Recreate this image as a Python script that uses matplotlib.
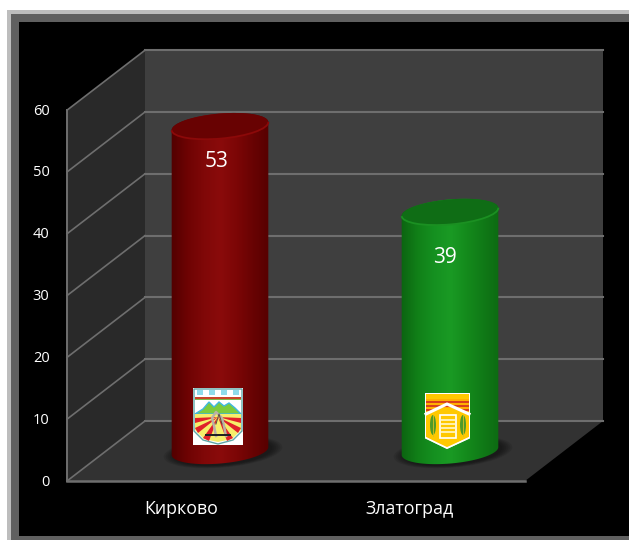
import numpy as np
import matplotlib
matplotlib.use("Agg")
import matplotlib.pyplot as plt
from matplotlib.patches import Rectangle, Polygon, Ellipse, PathPatch, Arc
from matplotlib.path import Path
from matplotlib.colors import LinearSegmentedColormap

''' DATA '''
categories = ["Кирково", "Златоград"]
values = [53, 39]
ticks = [0, 10, 20, 30, 40, 50, 60]
red_shades = ["#520000", "#6e0303", "#800808", "#8a0b0b", "#7c0606", "#680303", "#560000"]
green_shades = ["#0c6411", "#118018", "#159020", "#1a9a24", "#148a1c", "#107a17", "#0d6a12"]
top_colors = ["#680202", "#0f6d15"]
rim_colors = ["#8c0909", "#1b9022"]

''' PARAMETERS '''
W, H = 629, 540
front_x, back_x, right_back, right_front = 67, 145, 603, 525
front_0, back_0 = 481, 421
unit = 6.18          # pixels per value unit on the walls
bar_centers = [220, 450]
bar_base = 451
bar_unit = 6.13
rx, ry, tilt = 48.5, 12.5, -5
value_pos = [(217, 161.5), (445, 257.5)]
label_x = [181, 409.5]


def fy(v):
    return front_0 - v * unit


def by(v):
    return back_0 - v * unit


def by_bar(v):
    return bar_base - v * bar_unit


fig = plt.figure(figsize=(W / 100, H / 100), dpi=100, facecolor="white")
ax = fig.add_axes([0, 0, 1, 1])

# Frame
ax.add_patch(Rectangle((7, 10), W, H, fc="#bdbdbd", ec="none", zorder=0))
ax.add_patch(Rectangle((11, 14), W, H, fc="#606060", ec="none", zorder=0.1))
ax.add_patch(Rectangle((19, 22), W, 514, fc="black", ec="none", zorder=0.2))

# Walls and floor
top = ticks[-1]
ax.add_patch(Rectangle((back_x, by(top)), right_back - back_x, by(0) - by(top),
                       fc="#3f3f3f", ec="none", zorder=1))
ax.add_patch(Polygon([(front_x, fy(top)), (back_x, by(top)), (back_x, by(0)), (front_x, fy(0))],
                     fc="#292929", ec="none", zorder=1))
ax.add_patch(Polygon([(front_x, fy(0)), (back_x, by(0)), (right_back, by(0)), (right_front, fy(0))],
                     fc="#323232", ec="none", zorder=1))

# Grid lines
for t in ticks:
    ax.plot([front_x, back_x], [fy(t), by(t)], color="#6e6e6e", lw=1.2, zorder=2)
    ax.plot([back_x, right_back], [by(t), by(t)], color="#6e6e6e", lw=1.5, zorder=2)
    ax.text(49.5, fy(t) + 1, str(t), color="white", fontsize=10.5, family="Open Sans",
            ha="right", va="center", zorder=6)
ax.plot([front_x, front_x], [fy(0), fy(top)], color="#6e6e6e", lw=1.4, zorder=2)
ax.plot([front_x, right_front], [fy(0), fy(0)], color="#6e6e6e", lw=1.8, zorder=2)


# Cylinders
def cylinder(cx, val, shades, top_c, rim_c):
    y_top = by_bar(val)
    # soft shadow on the floor
    for k in range(6):
        ax.add_patch(Ellipse((cx + 3, bar_base + 1), 2 * rx + 22 - k * 4, 2 * ry + 6 - k,
                             angle=tilt, fc="black", ec="none", alpha=0.09, zorder=2.5))
    t = np.linspace(0, np.pi, 60)
    ca, sa = np.cos(np.radians(tilt)), np.sin(np.radians(tilt))
    ex, ey = rx * np.cos(t), ry * np.sin(t)
    px = ex * ca - ey * sa
    py = ex * sa + ey * ca
    bottom = np.column_stack([cx + px, bar_base + py])
    upper = np.column_stack([cx - px, y_top - py])
    verts = np.vstack([bottom, upper, bottom[:1]])
    clip = PathPatch(Path(verts), transform=ax.transData, fc="none", ec="none")
    ax.add_patch(clip)
    cmap = LinearSegmentedColormap.from_list("c", shades)
    im = ax.imshow(np.linspace(0, 1, 200).reshape(1, -1), cmap=cmap, aspect="auto",
                   extent=[cx - rx - 1, cx + rx + 1, bar_base + ry + 3, y_top - ry - 3], zorder=3)
    im.set_clip_path(clip)
    ax.add_patch(Ellipse((cx, y_top), 2 * rx, 2 * ry, angle=tilt, fc=top_c, ec="none", zorder=3.5))
    # lit front rim of the top face (y axis is inverted, so 0-180 is the lower half)
    ax.add_patch(Arc((cx, y_top), 2 * rx, 2 * ry, angle=tilt, theta1=0, theta2=180,
                     color=rim_c, lw=1.3, zorder=3.6))


colors = [red_shades, green_shades]
for i in range(2):
    cylinder(bar_centers[i], values[i], colors[i], top_colors[i], rim_colors[i])
    ax.text(value_pos[i][0], value_pos[i][1], str(values[i]), color="white", fontsize=15,
            family="Open Sans", ha="center", va="center", zorder=6)
    ax.text(label_x[i], 509, categories[i], color="white", fontsize=12.8,
            family="Open Sans", ha="center", va="center", zorder=6)

ax.set_xlim(0, W)
ax.set_ylim(H, 0)
ax.axis("off")

# Emblem Kirkovo
ax.add_patch(Rectangle((193, 388), 50, 57, fc="white", ec="none", zorder=4))
ax.add_patch(Polygon([(194, 389), (242, 389), (242, 431), (233, 440), (218, 444), (203, 440), (194, 431)],
                     fc="#ffffff", ec="#5fa8a8", lw=1, zorder=4.1))
for bx in (197, 209, 221, 233):
    ax.add_patch(Rectangle((bx, 390), 6, 5, fc="#8fdcec", ec="none", zorder=4.2))
ax.add_patch(Rectangle((195, 397), 46, 1.5, fc="#c8452a", ec="none", zorder=4.2))
ax.add_patch(Rectangle((195, 398.5), 46, 1, fc="#7fb84a", ec="none", zorder=4.2))
ax.add_patch(Polygon([(195, 414), (203, 409), (209, 402), (214, 407), (219, 402), (224, 406), (229, 403),
                      (235, 408), (241, 414)], fc="#7ccb3c", ec="#3fb8e0", lw=1, zorder=4.2))
ax.add_patch(Polygon([(195, 414), (241, 414), (241, 430), (232, 439), (218, 442), (204, 439), (195, 430)],
                     fc="#f6ee6a", ec="none", zorder=4.25))
for a, b in [((195, 418), (195, 423)), ((195, 428), (198, 433)), ((203, 438), (209, 441)),
             ((227, 441), (233, 438)), ((238, 433), (241, 428)), ((241, 423), (241, 418))]:
    ax.add_patch(Polygon([(218, 417), a, b], fc="#e0202a", ec="none", zorder=4.3))
ax.plot([216, 214, 212, 216, 222, 224, 226], [436, 426, 418, 412, 418, 426, 436],
        color="#b9b2a6", lw=1.8, zorder=4.4)
ax.plot([216, 219, 222], [424, 414, 424], color="#5a4a40", lw=0.7, zorder=4.45)
ax.add_patch(Rectangle((205, 434), 26, 2, fc="#222222", ec="none", zorder=4.5))

# Emblem Zlatograd
ax.add_patch(Polygon([(425, 393), (470, 393), (470, 438), (447, 449), (425, 438)],
                     fc="#ffffff", ec="none", zorder=4))
ax.add_patch(Rectangle((426, 394), 43, 5, fc="#ffc800", ec="none", zorder=4.1))
ax.add_patch(Rectangle((426, 399), 43, 14, fc="#ffb000", ec="none", zorder=4.1))
for ry_ in (401, 405, 409):
    ax.add_patch(Rectangle((426, ry_), 43, 2.2, fc="#d8401c", ec="none", zorder=4.15))
ax.add_patch(Polygon([(436, 408), (459, 408), (469, 415), (469, 437), (447, 448), (426, 437), (426, 415)],
                     fc="#ffc800", ec="none", zorder=4.2))
ax.plot([426, 447, 469], [414, 404, 414], color="white", lw=2.2, zorder=4.25)
ax.plot([426, 447, 469], [438, 448, 438], color="white", lw=1.2, zorder=4.25)
ax.add_patch(Rectangle((440, 415), 16, 23, fc="#ffc800", ec="#ffffff", lw=1.2, zorder=4.3))
for ly in (420, 424, 428, 432):
    ax.plot([442, 454], [ly, ly], color="#fff2b0", lw=1.4, zorder=4.35)
for gx in (433, 463):
    ax.add_patch(Ellipse((gx, 425), 6, 20, fc="#4f9a28", ec="none", zorder=4.3))
    ax.plot([gx, gx], [415, 436], color="#d8c020", lw=0.6, zorder=4.35)

fig.savefig("out.png", dpi=100, facecolor="white")
